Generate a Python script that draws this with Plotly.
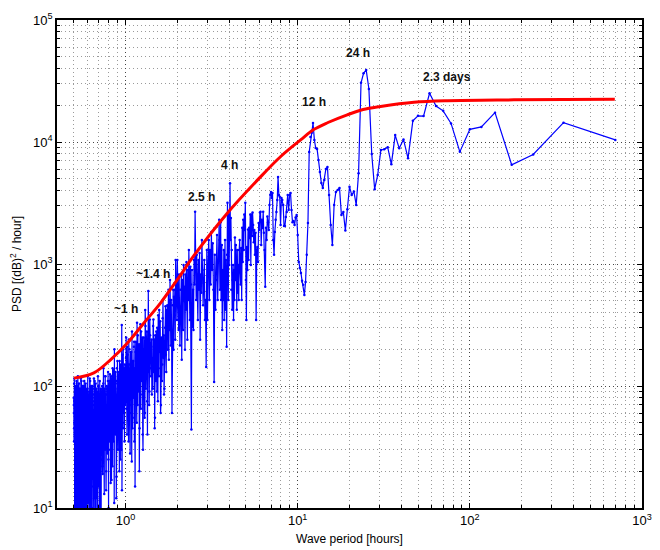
import numpy as np
import plotly.graph_objects as go

# Record length of the series; spectral periods are RECORD_HOURS / harmonic number
RECORD_HOURS = 700.0

# Harmonics 1..200, one by one
harm_low = list(range(1, 201))
psd_low = [
    10400, 14400, 7900, 6500, 17400, 13300, 12700, 8300, 14200, 18000,
    19700, 25100, 16300, 16400, 14900, 7350, 10500, 8870, 11400, 6560,
    9060, 8710, 8600, 5370, 4100, 7980, 27200, 39000, 36600, 30600,
    5550, 3050, 3920, 3680, 4300, 2810, 1880, 2670, 2520, 4200,
    4050, 3890, 3050, 1430, 2090, 3680, 6240, 6010, 4890, 4200,
    4610, 5680, 7110, 8770, 8930, 10400, 14300, 11900, 11000, 8280,
    2170, 1190, 713, 558, 675, 728, 845, 929, 1040, 1730,
    2520, 2400, 2090, 2250, 2200, 2770, 3820, 3680, 2770, 3680,
    2670, 2430, 2050, 2050, 3050, 3350, 3480, 2090, 3550, 3680,
    5160, 3350, 2670, 2300, 1830, 1190, 1570, 3820, 3480, 3890,
    3700, 3050, 1900, 2200, 2450, 1570, 1980, 650, 1300, 1800,
    2680, 1970, 2300, 1430, 2680, 2640, 1900, 2170, 1040, 1380,
    1300, 348, 1800, 1190, 1900, 1510, 2090, 2640, 1700, 2550,
    980, 2550, 1630, 1980, 1080, 1920, 895, 1380, 348, 740,
    3170, 1900, 2550, 1300, 2300, 1040, 1980, 508, 1350, 680,
    850, 1570, 1300, 508, 980, 580, 1300, 421, 1040, 1430,
    740, 1650, 508, 895, 348, 980, 740, 421, 1300, 614,
    2380, 1570, 4600, 1900, 980, 2550, 508, 1570, 3170, 1190,
    210, 614, 1080, 421, 1570, 700, 348, 1300, 508, 895,
    700, 288, 1430, 820, 508, 2200, 1080, 614, 1570, 2300,
]

# Harmonics 202..400, every second one
harm_mid = list(range(202, 401, 2))
psd_mid = [
    1080, 508, 1730, 740, 421, 1190, 108, 614, 1480, 895,
    1830, 680, 1300, 508, 1570, 980, 348, 1300, 143, 508,
    348, 1080, 700, 460, 895, 1570, 580, 820, 239, 1230,
    614, 1080, 348, 820, 1190, 508, 980, 2680, 680, 1080,
    288, 614, 305, 895, 44, 680, 950, 348, 740, 1300,
    508, 895, 239, 650, 1040, 421, 820, 198, 650, 508,
    980, 288, 495, 740, 164, 800, 421, 614, 215, 450,
    820, 288, 740, 508, 1080, 348, 680, 460, 1080, 239,
    614, 380, 540, 198, 614, 288, 460, 60, 288, 508,
    215, 480, 740, 288, 508, 164, 614, 348, 198, 460,
]

# Harmonics 404..1400, every fourth one
harm_high = list(range(404, 1401, 4))
psd_high = [
    # 404..500
    420, 180, 300, 95, 260, 510, 150, 230, 70, 340,
    200, 120, 380, 160, 90, 280, 200, 55, 240, 130,
    310, 170, 85, 210, 140,
    # 504..700
    260, 90, 180, 600, 140, 75, 230, 120, 310, 60,
    170, 250, 95, 40, 200, 130, 280, 85, 150, 45,
    220, 110, 170, 70, 330, 140, 90, 190, 15, 120,
    230, 80, 160, 55, 110, 24, 190, 95, 140, 60,
    200, 120, 35, 150, 85, 210, 100, 65, 170, 110,
    # 704..960
    130, 90, 140, 60, 110, 45, 180, 75, 316, 30,
    95, 150, 55, 85, 20, 130, 70, 100, 40, 160,
    65, 110, 12, 80, 130, 50, 90, 200, 60, 35,
    105, 75, 140, 45, 85, 17, 120, 60, 95, 30,
    70, 110, 50, 80, 25, 130, 65, 90, 40, 100,
    55, 14, 85, 120, 45, 70, 95, 35, 60, 140,
    50, 80, 22, 100, 60,
    # 964..1400
    60, 25, 95, 40, 8, 70, 110, 35, 55, 18,
    85, 45, 120, 30, 65, 12, 90, 50, 75, 22,
    105, 38, 60, 6, 80, 45, 115, 28, 70, 15,
    95, 55, 35, 85, 10, 65, 100, 40, 75, 20,
    110, 30, 60, 9, 90, 50, 25, 80, 45, 120,
    35, 70, 14, 95, 55, 30, 85, 5, 60, 100,
    40, 75, 20, 110, 50, 65, 11, 90, 35, 80,
    25, 100, 45, 70, 7, 85, 55, 115, 30, 60,
    16, 95, 40, 75, 28, 105, 50, 8, 80, 45,
    120, 35, 65, 13, 90, 55, 110, 25, 70, 40,
    100, 20, 85, 50, 4, 75, 115, 45, 60, 80,
]

# Harmonics 402..1398, every fourth one (between the ones above)
harm_fill = list(range(402, 1400, 4))
psd_fill = [
    # 402..498
    300, 130, 450, 210, 85, 170, 360, 110, 250, 60,
    190, 420, 140, 75, 300, 180, 110, 260, 45, 200,
    350, 95, 160, 240, 120,
    # 502..698
    180, 350, 70, 240, 130, 40, 280, 160, 95, 420,
    55, 200, 130, 30, 250, 110, 180, 65, 320, 140,
    20, 190, 90, 260, 120, 50, 170, 230, 80, 140,
    35, 210, 100, 160, 45, 280, 120, 70, 190, 28,
    150, 95, 240, 60, 130, 180, 40, 110, 250, 75,
    # 702..958
    70, 150, 35, 120, 85, 200, 50, 100, 14, 130,
    65, 90, 25, 110, 160, 45, 80, 120, 30, 95,
    55, 140, 18, 75, 105, 40, 120, 60, 11, 90,
    135, 50, 70, 22, 115, 80, 45, 100, 16, 65,
    125, 35, 90, 55, 10, 75, 110, 28, 60, 95,
    40, 20, 85, 50, 120, 30, 70, 13, 90, 45,
    105, 60, 19, 80, 40,
    # 962..1398
    30, 75, 5, 90, 45, 20, 65, 3, 85, 50,
    15, 100, 35, 60, 7, 80, 40, 25, 95, 9,
    55, 70, 4, 45, 110, 30, 12, 85, 60, 6,
    75, 35, 100, 20, 50, 2, 90, 65, 28, 8,
    70, 40, 115, 18, 60, 5, 85, 30, 50, 11,
    95, 25, 70, 3, 55, 80, 40, 14, 105, 45,
    6, 65, 90, 22, 50, 4, 75, 35, 100, 10,
    60, 28, 85, 7, 45, 110, 33, 55, 2, 80,
    40, 95, 15, 65, 5, 70, 30, 90, 12, 50,
    85, 6, 60, 38, 100, 20, 75, 3, 55, 45,
    95, 9, 65, 25, 80, 4, 50, 105, 35, 70,
]

# Fitted background spectrum (period in hours, PSD)
model_period = [0.501, 0.655, 0.818, 1.023, 1.276, 1.596, 1.995, 2.495, 3.90,
                6.10, 8.0, 10.4, 12.45, 15.0, 19.4, 24.0, 30.3, 47.4, 74.1, 180, 695]
model_psd = [116, 128, 164, 224, 327, 478, 741, 1170, 2610,
             5200, 7640, 10400, 12700, 14450, 16700, 18470, 19550, 21150, 21800, 22150, 22400]

# Peak labels: text, period, PSD
peak_text = ["~1 h", "~1.4 h", "2.5 h", "4 h", "12 h", "24 h", "2.3 days"]
peak_period = [1.01, 1.435, 2.765, 4.02, 12.5, 22.3, 73.3]
peak_psd = [430, 830, 3540, 6470, 21300, 53600, 34000]

for h, p in ((harm_low, psd_low), (harm_mid, psd_mid),
             (harm_high, psd_high), (harm_fill, psd_fill)):
    assert len(h) == len(p)

harmonics = np.array(harm_low + harm_mid + harm_high + harm_fill, dtype=float)
psd = np.array(psd_low + psd_mid + psd_high + psd_fill, dtype=float)
order = np.argsort(harmonics)
harmonics, psd = harmonics[order], psd[order]
period = RECORD_HOURS / harmonics

FONT = "Liberation Sans, Arial, Helvetica, sans-serif"

fig = go.Figure()
fig.add_trace(go.Scatter(
    x=period, y=psd, mode="lines+markers",
    line=dict(color="#0000ff", width=1.2),
    marker=dict(color="#0000ff", size=2.5),
    showlegend=False, hoverinfo="skip",
))
fig.add_trace(go.Scatter(
    x=model_period, y=model_psd, mode="lines",
    line=dict(color="#ff0000", width=3, shape="spline", smoothing=1.0),
    showlegend=False, hoverinfo="skip",
))

for t, px, py in zip(peak_text, peak_period, peak_psd):
    fig.add_annotation(
        x=np.log10(px), y=np.log10(py), xref="x", yref="y",
        text=f"<b>{t}</b>", showarrow=False,
        font=dict(family=FONT, size=12, color="#111111"),
    )

x_major = [1, 10, 100, 1000]
x_minor = [v * m for m in (0.1, 1, 10, 100) for v in range(2, 10) if 0.4 <= v * m < 1000]
y_major = [10, 100, 1000, 10000, 100000]
y_minor = [v * m for m in (10, 100, 1000, 10000) for v in range(2, 10)]

axis_common = dict(
    type="log",
    showline=True, linecolor="black", linewidth=1.5, mirror="allticks",
    ticks="inside", ticklen=5, tickwidth=1, tickcolor="black",
    showgrid=True, gridcolor="#444444", griddash="1px,3px", gridwidth=1,
    zeroline=False,
    tickfont=dict(family=FONT, size=13, color="black"),
)

fig.update_xaxes(
    **axis_common,
    range=[np.log10(0.4), 3],
    tickmode="array", tickvals=x_major,
    ticktext=[f"10<sup>{int(np.log10(v))}</sup>" for v in x_major],
    minor=dict(tickmode="array", tickvals=x_minor, ticks="inside", ticklen=3,
               tickcolor="black", showgrid=True, gridcolor="#9a9a9a",
               griddash="1px,3px", gridwidth=1),
    title=dict(text="Wave period [hours]", font=dict(family=FONT, size=12, color="black"),
               standoff=7),
)
fig.update_yaxes(
    **axis_common,
    range=[1, 5],
    tickmode="array", tickvals=y_major,
    ticktext=[f"10<sup>{int(np.log10(v))}</sup>" for v in y_major],
    minor=dict(tickmode="array", tickvals=y_minor, ticks="inside", ticklen=3,
               tickcolor="black", showgrid=True, gridcolor="#9a9a9a",
               griddash="1px,3px", gridwidth=1),
    title=dict(text="PSD [(dB)<sup>2</sup> / hour]", font=dict(family=FONT, size=12, color="black"),
               standoff=9),
)

fig.update_layout(
    width=660, height=550,
    margin=dict(l=57, r=18, t=20, b=42, autoexpand=False),
    paper_bgcolor="white", plot_bgcolor="white",
    font=dict(family=FONT, color="black"),
)

fig.write_html("out.html")
